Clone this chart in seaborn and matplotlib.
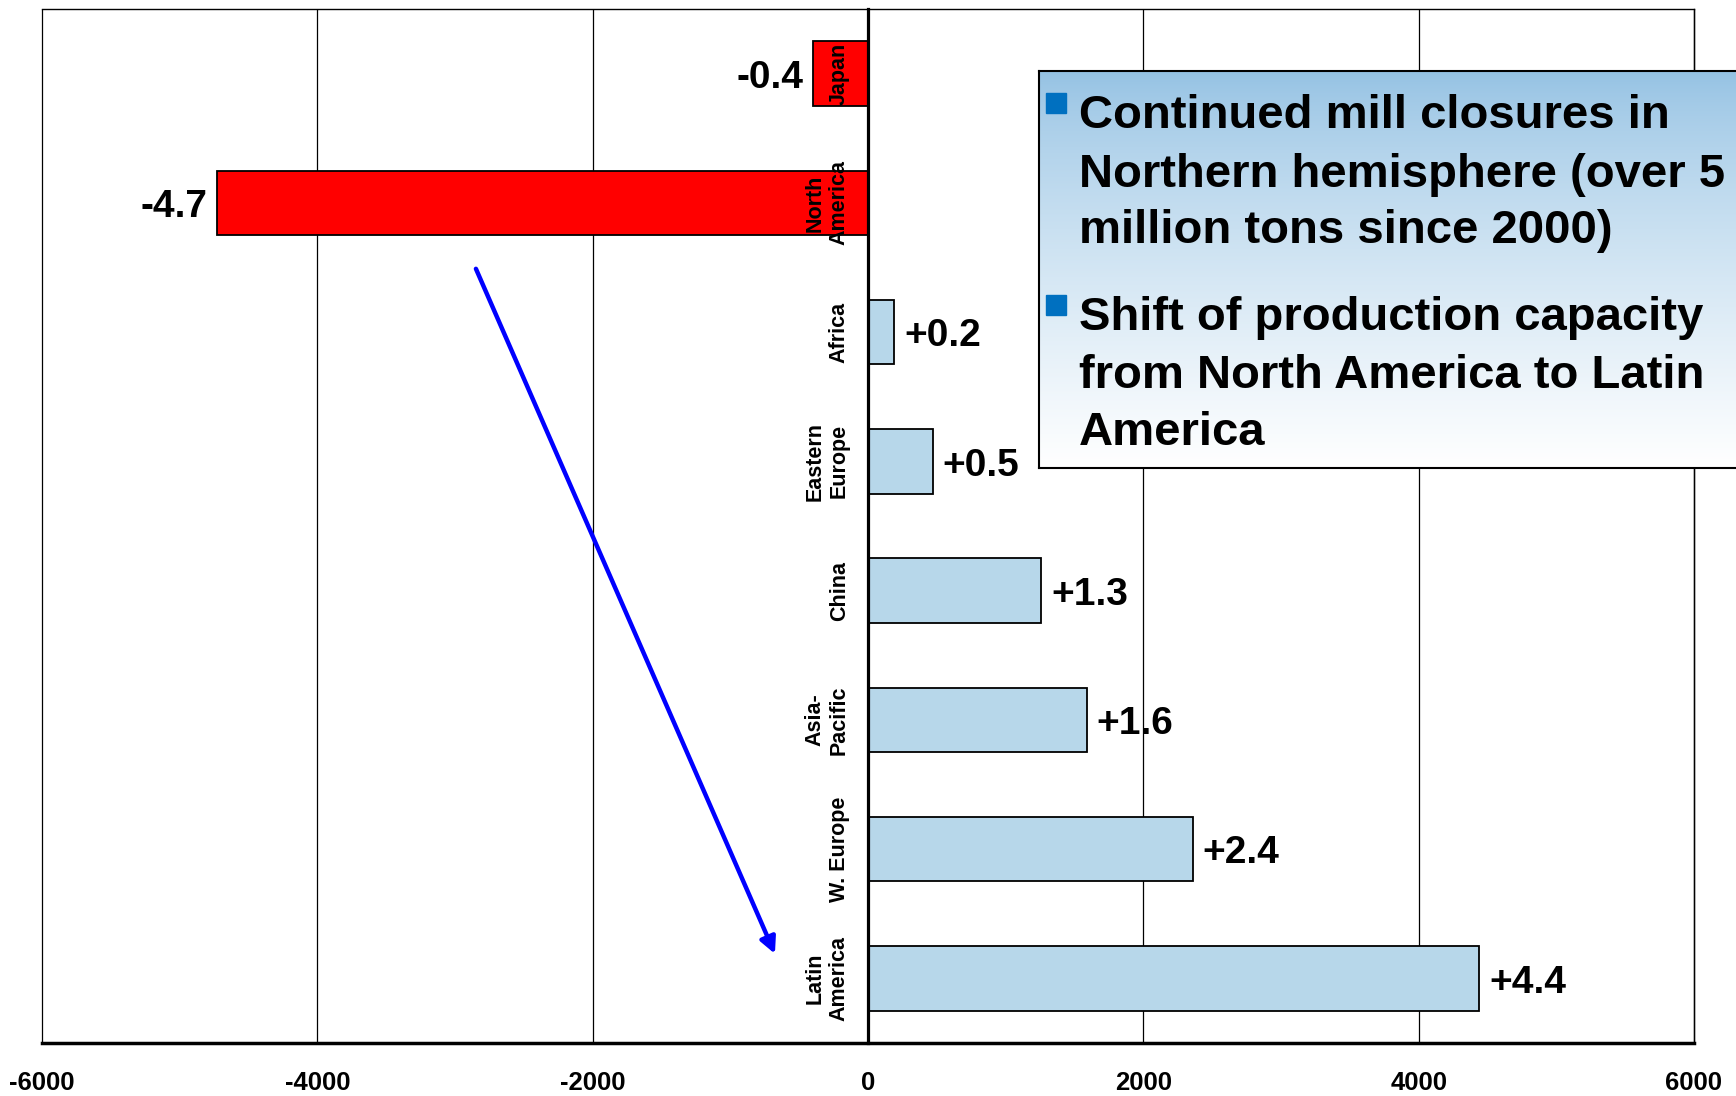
import numpy as np
import pandas as pd
import seaborn as sns
import matplotlib.pyplot as plt
from matplotlib import font_manager
from matplotlib.patches import Rectangle

# Capacity change by region (thousand tons)
regions = ["Japan", "North\nAmerica", "Africa", "Eastern\nEurope", "China",
           "Asia-\nPacific", "W. Europe", "Latin\nAmerica"]
capacity_change = [-400, -4730, 190, 470, 1260, 1590, 2360, 4440]
value_labels = ["-0.4", "-4.7", "+0.2", "+0.5", "+1.3", "+1.6", "+2.4", "+4.4"]
x_ticks = [-6000, -4000, -2000, 0, 2000, 4000, 6000]

bullet_1 = ["Continued mill closures in",
            "Northern hemisphere (over 5",
            "million tons since 2000)"]
bullet_2 = ["Shift of production capacity",
            "from North America to Latin",
            "America"]

# arrow from North America towards Latin America
arrow_start = (-2848, 1.51)
arrow_end = (-676, 6.81)

sns.set_style("white")
plt.rcParams['font.family'] = ['Liberation Sans', 'DejaVu Sans']
plt.rcParams['font.weight'] = 'bold'   # every text on this slide is bold
plt.rcParams['axes.unicode_minus'] = False
plt.rcParams['text.color'] = 'black'
plt.rcParams['xtick.color'] = 'black'
plt.rcParams['ytick.color'] = 'black'
plt.rcParams['xtick.labelcolor'] = 'black'
plt.rcParams['ytick.labelcolor'] = 'black'

names = {f.name for f in font_manager.fontManager.ttflist}
narrow = 'Liberation Sans Narrow' if 'Liberation Sans Narrow' in names else None

df = pd.DataFrame({"region": regions, "change": capacity_change})
palette = {r: ("#FF0000" if v < 0 else "#B7D7EA") for r, v in zip(regions, capacity_change)}

W, H = 1736, 1096
fig = plt.figure(figsize=(W / 100, H / 100), dpi=100)
ax = fig.add_axes([42 / W, 1 - 1043 / H, (1694 - 42) / W, (1043 - 9) / H])

sns.barplot(data=df, x="change", y="region", hue="region", palette=palette,
            legend=False, width=0.5, saturation=1, edgecolor="black",
            linewidth=1.3, orient="h", ax=ax)

ax.set_xlim(-6000, 6000)
ax.set_ylim(7.5, -0.5)
ax.set_xlabel("")
ax.set_ylabel("")
ax.set_axisbelow(False)  # category names must show over the red bars

# category axis sits on zero (moving the spine resets ticks, so do it first)
ax.spines["left"].set_position(("data", 0))
ax.spines["left"].set_linewidth(2.3)
ax.spines["bottom"].set_linewidth(2.5)
for s in ["top", "right"]:
    ax.spines[s].set_linewidth(1)
for s in ax.spines.values():
    s.set_color("black")

# grid lines behind the bars
ax.vlines(x_ticks, -0.5, 7.5, colors="black", lw=0.9, zorder=0.5, clip_on=False)

ax.set_xticks(x_ticks)
ax.set_xticklabels([str(t) for t in x_ticks])
if narrow:
    ax.tick_params(axis="x", length=7, width=1, pad=13, labelsize=20,
                   labelfontfamily=narrow)
else:
    ax.tick_params(axis="x", length=7, width=1, pad=13, labelsize=18.5)

ax.set_yticks(range(len(regions)))
ax.set_yticks(np.arange(0.5, len(regions) - 1, 1.0), minor=True)
ax.tick_params(axis="y", which="major", length=0, pad=13)
ax.tick_params(axis="y", which="minor", length=5, width=1.5)
ax.set_yticklabels(regions, rotation=90, va="center", ha="right",
                   multialignment="center", fontsize=15.5, fontweight="bold")

# value labels at the bar ends
for cont in ax.containers:
    for bar in cont:
        idx = int(round(bar.get_y() + bar.get_height() / 2))
        end = bar.get_x() + bar.get_width()
        pos = capacity_change[idx] >= 0
        ax.annotate(value_labels[idx], (end, idx), xytext=(7 if pos else -7, -3),
                    textcoords="offset points", ha="left" if pos else "right",
                    va="center", fontsize=28, fontweight="bold", color="black")

ax.annotate("", xy=arrow_end, xytext=arrow_start,
            arrowprops=dict(arrowstyle="-|>", color="#0000FF", lw=3.2,
                            mutation_scale=24, shrinkA=0, shrinkB=0))

# text box with gradient
bx = fig.add_axes([1039 / W, 1 - 468 / H, (1780 - 1039) / W, (468 - 71) / H])
t = np.linspace(0, 1, 256)[:, None, None] ** 0.75
top = np.array([0.576, 0.757, 0.890])
grad = top * (1 - t) + t
bx.imshow(grad, aspect="auto", extent=[0, 1, 0, 1], origin="upper")
bx.set_xticks([])
bx.set_yticks([])
for s in bx.spines.values():
    s.set_linewidth(1.5)
    s.set_color("black")

for y0 in [93, 295]:
    fig.add_artist(Rectangle((1046 / W, 1 - (y0 + 20) / H), 20 / W, 20 / H,
                             transform=fig.transFigure, color="#0070C0", zorder=5))

for lines, baselines in [(bullet_1, [128, 187, 243]), (bullet_2, [330, 388, 445])]:
    for line, yb in zip(lines, baselines):
        fig.text(1079 / W, 1 - yb / H, line, fontsize=34, fontweight="bold",
                 va="baseline", ha="left", color="black", zorder=6)

fig.savefig("out.png", dpi=100)
